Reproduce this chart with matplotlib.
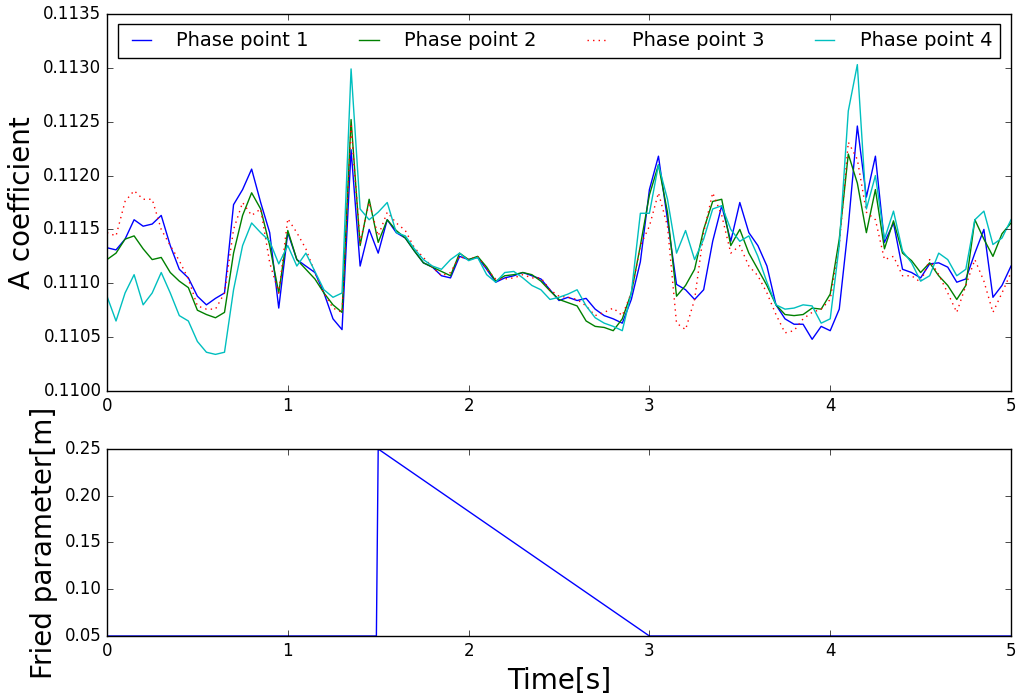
import numpy as np
import matplotlib
matplotlib.use('Agg')
import matplotlib.pyplot as plt
from matplotlib.ticker import FormatStrFormatter

# sample times of the A coefficient traces
time = np.linspace(0, 5, 101)

phase1 = [0.11133, 0.11131, 0.11141, 0.11159, 0.11153, 0.11155, 0.11163, 0.11135, 0.11113, 0.11105,
          0.11088, 0.11080, 0.11086, 0.11091, 0.11173, 0.11187, 0.11206, 0.11175, 0.11147, 0.11077, 0.11147,
          0.11122, 0.11116, 0.11110, 0.11091, 0.11067, 0.11057, 0.11224, 0.11116, 0.11150, 0.11128,
          0.11159, 0.11147, 0.11142, 0.11130, 0.11119, 0.11115, 0.11107, 0.11105, 0.11125, 0.11122,
          0.11124, 0.11113, 0.11101, 0.11105, 0.11107, 0.11110, 0.11107, 0.11104, 0.11094, 0.11084,
          0.11087, 0.11084, 0.11086, 0.11076, 0.11070, 0.11067, 0.11063, 0.11085, 0.11120, 0.11187,
          0.11218, 0.11159, 0.11099, 0.11094, 0.11085, 0.11094, 0.11139, 0.11172, 0.11139, 0.11175,
          0.11147, 0.11135, 0.11116, 0.11080, 0.11067, 0.11062, 0.11062, 0.11048, 0.11060, 0.11056,
          0.11076, 0.11153, 0.11246, 0.11180, 0.11218, 0.11138, 0.11156, 0.11113, 0.11110, 0.11105,
          0.11118, 0.11119, 0.11115, 0.11101, 0.11104, 0.11128, 0.11150, 0.11087, 0.11098, 0.11116]

phase2 = [0.11122, 0.11128, 0.11141, 0.11144, 0.11132, 0.11122, 0.11124, 0.11110, 0.11102, 0.11096,
          0.11075, 0.11071, 0.11068, 0.11073, 0.11128, 0.11163, 0.11184, 0.11169, 0.11135, 0.11091, 0.11149,
          0.11122, 0.11113, 0.11104, 0.11091, 0.11080, 0.11073, 0.11252, 0.11135, 0.11178, 0.11138,
          0.11159, 0.11149, 0.11142, 0.11130, 0.11119, 0.11115, 0.11111, 0.11107, 0.11128, 0.11122,
          0.11125, 0.11115, 0.11102, 0.11107, 0.11108, 0.11110, 0.11108, 0.11102, 0.11093, 0.11085,
          0.11082, 0.11079, 0.11065, 0.11060, 0.11059, 0.11056, 0.11067, 0.11091, 0.11135, 0.11182,
          0.11210, 0.11166, 0.11088, 0.11098, 0.11113, 0.11150, 0.11176, 0.11178, 0.11135, 0.11150,
          0.11128, 0.11113, 0.11098, 0.11080, 0.11071, 0.11070, 0.11071, 0.11077, 0.11076, 0.11090,
          0.11141, 0.11220, 0.11193, 0.11147, 0.11187, 0.11132, 0.11158, 0.11128, 0.11121, 0.11110,
          0.11119, 0.11107, 0.11098, 0.11085, 0.11098, 0.11159, 0.11141, 0.11125, 0.11146, 0.11156]

phase3 = [0.11147, 0.11144, 0.11176, 0.11186, 0.11178, 0.11178, 0.11150, 0.11135, 0.11121, 0.11104,
          0.11079, 0.11076, 0.11076, 0.11091, 0.11150, 0.11175, 0.11163, 0.11169, 0.11119, 0.11091, 0.11160,
          0.11147, 0.11132, 0.11110, 0.11091, 0.11077, 0.11073, 0.11246, 0.11138, 0.11175, 0.11144,
          0.11166, 0.11156, 0.11149, 0.11133, 0.11124, 0.11115, 0.11107, 0.11110, 0.11125, 0.11122,
          0.11125, 0.11113, 0.11104, 0.11104, 0.11105, 0.11108, 0.11105, 0.11105, 0.11094, 0.11088,
          0.11087, 0.11085, 0.11079, 0.11070, 0.11073, 0.11077, 0.11070, 0.11091, 0.11135, 0.11153,
          0.11184, 0.11153, 0.11063, 0.11057, 0.11085, 0.11147, 0.11184, 0.11163, 0.11128, 0.11135,
          0.11116, 0.11107, 0.11091, 0.11071, 0.11054, 0.11056, 0.11067, 0.11073, 0.11076, 0.11085,
          0.11135, 0.11231, 0.11215, 0.11166, 0.11159, 0.11122, 0.11125, 0.11107, 0.11107, 0.11101,
          0.11122, 0.11108, 0.11091, 0.11073, 0.11098, 0.11122, 0.11102, 0.11073, 0.11091, 0.11110]

phase4 = [0.11088, 0.11065, 0.11091, 0.11108, 0.11080, 0.11091, 0.11110, 0.11091, 0.11070, 0.11065,
          0.11046, 0.11036, 0.11034, 0.11036, 0.11094, 0.11135, 0.11156, 0.11147, 0.11139, 0.11118, 0.11135,
          0.11116, 0.11128, 0.11111, 0.11094, 0.11087, 0.11091, 0.11299, 0.11169, 0.11159, 0.11166,
          0.11175, 0.11147, 0.11144, 0.11132, 0.11122, 0.11116, 0.11113, 0.11122, 0.11128, 0.11121,
          0.11124, 0.11108, 0.11101, 0.11110, 0.11111, 0.11105, 0.11098, 0.11094, 0.11085, 0.11087,
          0.11090, 0.11094, 0.11079, 0.11068, 0.11063, 0.11060, 0.11056, 0.11091, 0.11165, 0.11165,
          0.11210, 0.11178, 0.11128, 0.11149, 0.11122, 0.11141, 0.11169, 0.11172, 0.11150, 0.11139,
          0.11144, 0.11125, 0.11101, 0.11080, 0.11076, 0.11077, 0.11080, 0.11079, 0.11063, 0.11067,
          0.11135, 0.11260, 0.11303, 0.11169, 0.11200, 0.11141, 0.11167, 0.11130, 0.11119, 0.11102,
          0.11107, 0.11128, 0.11122, 0.11107, 0.11113, 0.11159, 0.11167, 0.11136, 0.11142, 0.11159]

# Fried parameter profile: flat, step up at 1.5 s, ramp down to 3 s
fried_time = [0.0, 1.49, 1.5, 3.0, 5.0]
fried_r0 = [0.05, 0.05, 0.25, 0.05, 0.05]

plt.style.use('classic')
fig = plt.figure(figsize=(10.16, 6.96), dpi=100, facecolor='white')

ax1 = fig.add_axes([0.1053, 0.4382, 0.8898, 0.5417])
ax1.plot(time, phase1, 'b-', label='Phase point 1')
ax1.plot(time, phase2, 'g-', label='Phase point 2')
ax1.plot(time, phase3, 'r:', label='Phase point 3')
ax1.plot(time, phase4, 'c-', label='Phase point 4')
ax1.set_xlim(0, 5)
ax1.set_ylim(0.1100, 0.1135)
ax1.set_yticks(np.arange(0.1100, 0.11351, 0.0005))
ax1.yaxis.set_major_formatter(FormatStrFormatter('%.4f'))
ax1.set_ylabel('A coefficient', fontsize=20)
ax1.tick_params(labelsize=12)
ax1.legend(loc='upper center', ncol=4, fontsize=14, bbox_to_anchor=(0.5, 1.0),
           handlelength=1.6, handletextpad=1.0, columnspacing=2.3)

ax2 = fig.add_axes([0.1053, 0.0862, 0.8898, 0.2687])
ax2.plot(fried_time, fried_r0, 'b-')
ax2.set_xlim(0, 5)
ax2.set_ylim(0.05, 0.25)
ax2.set_yticks([0.05, 0.10, 0.15, 0.20, 0.25])
ax2.yaxis.set_major_formatter(FormatStrFormatter('%.2f'))
ax2.set_ylabel('Fried parameter[m]', fontsize=20)
ax2.set_xlabel('Time[s]', fontsize=20)
ax2.tick_params(labelsize=12)

fig.savefig('out.png', dpi=100, facecolor='white')
